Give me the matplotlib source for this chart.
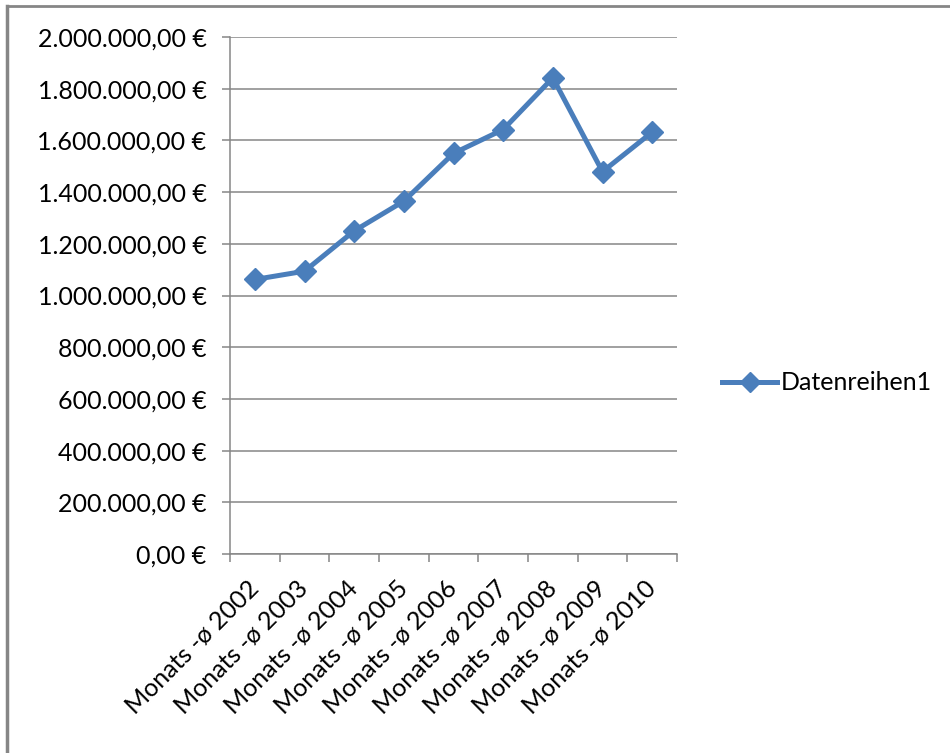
import matplotlib
matplotlib.use("Agg")
import matplotlib.pyplot as plt
from matplotlib.ticker import FuncFormatter, MultipleLocator
from matplotlib.lines import Line2D

# ---------- DATA ----------
categories = ["Monats -ø 2002", "Monats -ø 2003", "Monats -ø 2004", "Monats -ø 2005",
              "Monats -ø 2006", "Monats -ø 2007", "Monats -ø 2008", "Monats -ø 2009",
              "Monats -ø 2010"]
values = [1062000, 1094000, 1250000, 1365000, 1550000, 1642000, 1842000, 1479000, 1632000]
series_name = "Datenreihen1"

LINE_COLOR = "#4A7EBB"
GRID_COLOR = "#868686"
FS = 18

plt.rcParams["font.family"] = ["Lato", "DejaVu Sans"]


# ---------- GERMAN EURO FORMAT ----------
def euro_fmt(v, pos):
    s = f"{v:,.2f}"
    s = s.replace(",", "X").replace(".", ",").replace("X", ".")
    return f"{s} €"


fig = plt.figure(figsize=(9.5, 7.53), dpi=100)
ax = fig.add_axes([230 / 950, 1 - 554 / 753, (677 - 230) / 950, (554 - 37) / 753])

x = list(range(len(categories)))
ax.plot(x, values, color=LINE_COLOR, linewidth=3.6, marker="D", markersize=11,
        markerfacecolor=LINE_COLOR, markeredgecolor=LINE_COLOR, label=series_name)

ax.set_xlim(-0.5, len(categories) - 0.5)
ax.set_ylim(0, 2000000)
ax.yaxis.set_major_locator(MultipleLocator(200000))
ax.yaxis.set_major_formatter(FuncFormatter(euro_fmt))

ax.grid(axis="y", color=GRID_COLOR, linewidth=1.1)
ax.set_axisbelow(True)

for side in ["top", "right"]:
    ax.spines[side].set_visible(False)
for side in ["left", "bottom"]:
    ax.spines[side].set_color(GRID_COLOR)
    ax.spines[side].set_linewidth(1.1)

# category labels centred, ticks between categories
ax.set_xticks(x)
ax.set_xticklabels(categories, rotation=45, ha="right", va="center",
                   rotation_mode="anchor", fontsize=FS)
ax.tick_params(axis="x", length=0, pad=22)
ax.set_xticks([i - 0.5 for i in range(len(categories) + 1)], minor=True)
ax.tick_params(axis="x", which="minor", length=6, color=GRID_COLOR, width=1.1)
ax.tick_params(axis="y", length=6, color=GRID_COLOR, width=1.1, labelsize=FS, pad=11)

handle = Line2D([], [], color=LINE_COLOR, linewidth=3.6, marker="D", markersize=10)
fig.legend([handle], [series_name], loc="center left",
           bbox_to_anchor=(722 / 950, 1 - 383 / 753), frameon=False,
           fontsize=18, handlelength=2.2, handletextpad=0.15, borderaxespad=0,
           borderpad=0)

# outer frame (top and left edges of the chart area)
fig.add_artist(Line2D([7 / 950, 1], [1 - 6 / 753, 1 - 6 / 753], color=GRID_COLOR,
                      linewidth=2, transform=fig.transFigure))
fig.add_artist(Line2D([7 / 950, 7 / 950], [0, 1 - 6 / 753], color=GRID_COLOR,
                      linewidth=2.5, transform=fig.transFigure))

fig.savefig("out.png", dpi=100)
